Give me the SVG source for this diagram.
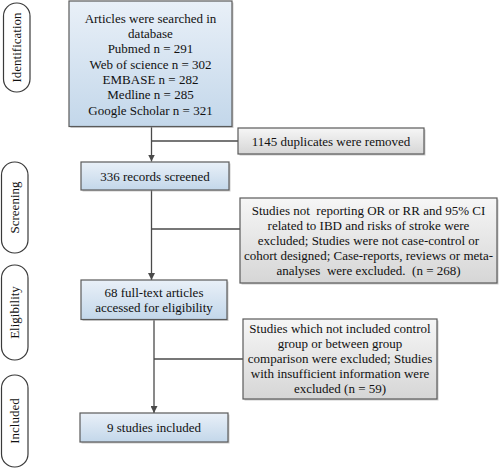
<svg xmlns="http://www.w3.org/2000/svg" width="500" height="469" viewBox="0 0 500 469">
<defs>
<linearGradient id="gBlue" x1="0" y1="0" x2="0" y2="1">
<stop offset="0" stop-color="#e9f0f8"/>
<stop offset="1" stop-color="#c3d7ea"/>
</linearGradient>
<linearGradient id="gGray" x1="0" y1="0" x2="0" y2="1">
<stop offset="0" stop-color="#f6f6f6"/>
<stop offset="1" stop-color="#d6d6d6"/>
</linearGradient>
<marker id="arr" viewBox="0 0 10 10" refX="10" refY="5" markerWidth="7" markerHeight="7" markerUnits="userSpaceOnUse" orient="auto">
<path d="M0,0 L10,5 L0,10 Z" fill="#4a4a4a"/>
</marker>
</defs>
<style>
.blue{fill:url(#gBlue);stroke:#5a5a5a;stroke-width:1.2}
.gray{fill:url(#gGray);stroke:#5a5a5a;stroke-width:1.2}
.shadow{fill:#9a9a9a;opacity:0.5}
.pill{fill:#ffffff;stroke:#3a3a3a;stroke-width:1.2}
.t{font-family:'Liberation Serif',serif;font-size:13px;fill:#111;text-anchor:middle;white-space:pre}
.conn{stroke:#4a4a4a;stroke-width:1.3;fill:none}
</style>
<rect width="500" height="469" fill="#ffffff"/>

<g id="stage-identification">
<rect class="pill" x="3.5" y="3" width="26.5" height="89" rx="13"/>
<text class="t" font-family="Liberation Serif, serif" transform="translate(21,47.5) rotate(-90)">Identification</text>
</g>
<g id="stage-screening">
<rect class="pill" x="1.5" y="162" width="26.5" height="91" rx="13"/>
<text class="t" font-family="Liberation Serif, serif" transform="translate(19,207.5) rotate(-90)">Screening</text>
</g>
<g id="stage-eligibility">
<rect class="pill" x="1.5" y="265" width="26.5" height="95" rx="13"/>
<text class="t" font-family="Liberation Serif, serif" transform="translate(19,312.5) rotate(-90)">Eligibility</text>
</g>
<g id="stage-included">
<rect class="pill" x="1.5" y="375" width="26.5" height="92" rx="13"/>
<text class="t" font-family="Liberation Serif, serif" transform="translate(19,421) rotate(-90)">Included</text>
</g>

<g id="connectors">
<line class="conn" x1="151.5" y1="127" x2="151.5" y2="161.5" marker-end="url(#arr)"/>
<line class="conn" x1="151.5" y1="141" x2="238" y2="141"/>
<line class="conn" x1="151.5" y1="190" x2="151.5" y2="280" marker-end="url(#arr)"/>
<line class="conn" x1="151.5" y1="229" x2="240" y2="229"/>
<line class="conn" x1="154" y1="320" x2="154" y2="413" marker-end="url(#arr)"/>
<line class="conn" x1="154" y1="359" x2="243" y2="359"/>
</g>

<g id="node-search" font-family="Liberation Serif, serif">
<rect class="shadow" x="70.5" y="2.5" width="163" height="125.5"/>
<rect class="blue" x="69" y="1" width="163" height="125.5"/>
<text class="t" x="150.5" y="22.5">Articles were searched in</text>
<text class="t" x="150.5" y="37.8">database</text>
<text class="t" x="150.5" y="53.2">Pubmed n = 291</text>
<text class="t" x="150.5" y="68.5">Web of science n = 302</text>
<text class="t" x="150.5" y="83.8">EMBASE n = 282</text>
<text class="t" x="150.5" y="99.2">Medline n = 285</text>
<text class="t" x="150.5" y="114.5">Google Scholar n = 321</text>
</g>

<g id="node-duplicates">
<rect class="shadow" x="239.5" y="129.5" width="186" height="26"/>
<rect class="gray" x="238" y="128" width="186" height="26"/>
<text class="t" x="331" y="145.5">1145 duplicates were removed</text>
</g>

<g id="node-screened">
<rect class="shadow" x="82.5" y="163.5" width="148" height="28"/>
<rect class="blue" x="81" y="162" width="148" height="28"/>
<text class="t" x="155" y="180.5">336 records screened</text>
</g>

<g id="node-excluded1">
<rect class="shadow" x="241.5" y="199.5" width="257" height="85"/>
<rect class="gray" x="240" y="198" width="257" height="85"/>
<text class="t" x="368.5" y="215">Studies not  reporting OR or RR and 95% CI</text>
<text class="t" x="368.5" y="230">related to IBD and risks of stroke were</text>
<text class="t" x="368.5" y="245">excluded; Studies were not case-control or</text>
<text class="t" x="368.5" y="260">cohort designed; Case-reports, reviews or meta-</text>
<text class="t" x="368.5" y="275">analyses  were excluded.  (n = 268)</text>
</g>

<g id="node-fulltext">
<rect class="shadow" x="82.5" y="281.5" width="146" height="39.5"/>
<rect class="blue" x="81" y="280" width="146" height="39.5"/>
<text class="t" x="154" y="296.5">68 full-text articles</text>
<text class="t" x="154" y="311.5">accessed for eligibility</text>
</g>

<g id="node-excluded2">
<rect class="shadow" x="244.5" y="320.5" width="194" height="80"/>
<rect class="gray" x="243" y="319" width="194" height="80"/>
<text class="t" x="340" y="332.5">Studies which not included control</text>
<text class="t" x="340" y="347.5">group or between group</text>
<text class="t" x="340" y="362.5">comparison were excluded; Studies</text>
<text class="t" x="340" y="377.5">with insufficient information were</text>
<text class="t" x="340" y="392.5">excluded (n = 59)</text>
</g>

<g id="node-included">
<rect class="shadow" x="81.5" y="414.5" width="148" height="29"/>
<rect class="blue" x="80" y="413" width="148" height="29"/>
<text class="t" x="154" y="432">9 studies included</text>
</g>
</svg>
